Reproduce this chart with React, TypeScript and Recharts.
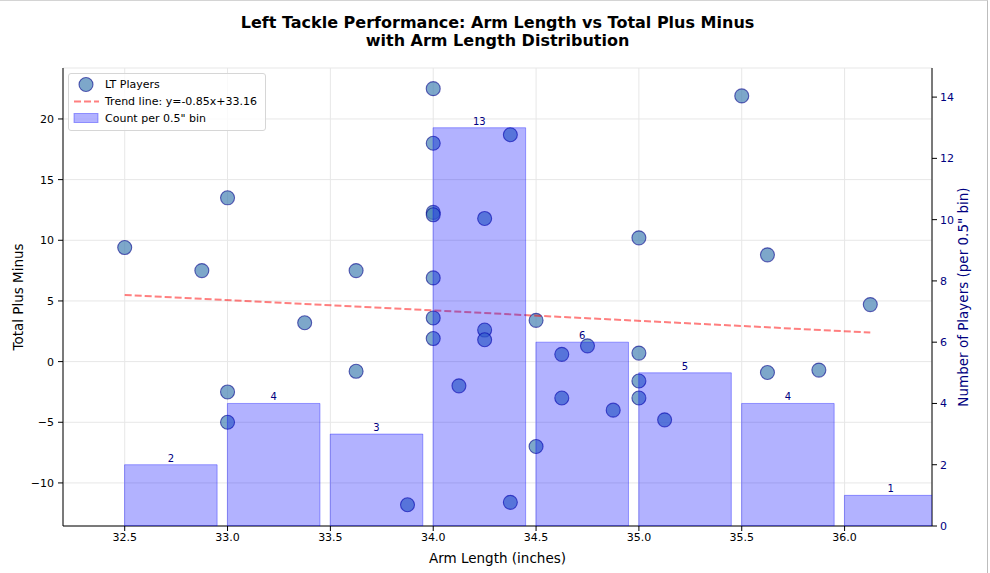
import React from "react";
import {
  ComposedChart,
  Scatter,
  Line,
  Bar,
  XAxis,
  YAxis,
  CartesianGrid,
  LabelList,
  Legend,
} from "recharts";

// arm length (inches) and total plus minus per left tackle
const armLength = [
  32.5, 32.875, 33, 33, 33, 33.375, 33.625, 33.625, 33.875, 34, 34, 34, 34, 34,
  34, 34, 34.125, 34.25, 34.25, 34.25, 34.375, 34.375, 34.5, 34.5, 34.625,
  34.625, 34.75, 34.875, 35, 35, 35, 35, 35.125, 35.5, 35.625, 35.625, 35.875,
  36.125,
];
const plusMinus = [
  9.4, 7.5, 13.5, -2.5, -5, 3.2, 7.5, -0.8, -11.8, 22.5, 18, 12.3, 12.1, 6.9,
  3.6, 1.9, -2, 11.8, 2.6, 1.8, 18.7, -11.6, 3.4, -7, 0.6, -3, 1.3, -4, 10.2,
  0.7, -1.6, -3, -4.8, 21.9, 8.8, -0.9, -0.7, 4.7,
];

// histogram bins (0.5" wide, drawn 0.45" wide)
const binStarts = [32.5, 33, 33.5, 34, 34.5, 35, 35.5, 36];
const binCounts = [2, 4, 3, 13, 6, 5, 4, 1];

// trend line end points
const trendX = [32.5, 36.125];
const trendY = [5.5, 2.4];

const xTicks = [32.5, 33, 33.5, 34, 34.5, 35, 35.5, 36];
const leftTicks = [-10, -5, 0, 5, 10, 15, 20];
const rightTicks = [0, 2, 4, 6, 8, 10, 12, 14];

const X_DOMAIN = [32.2, 36.425];
const FONT = "'DejaVu Sans', sans-serif";
const W = 990;
const H = 573;
const PLOT_LEFT = 63;
const PLOT_RIGHT = 932;
const BAR_W = 0.45;

const players = armLength.map((x, i) => ({ x, y: plusMinus[i] }));
const bins = binStarts.map((s, i) => ({ x: s + BAR_W / 2, count: binCounts[i] }));
const trend = trendX.map((x, i) => ({ x, y: trendY[i] }));

const barPx = (BAR_W * (PLOT_RIGHT - PLOT_LEFT)) / (X_DOMAIN[1] - X_DOMAIN[0]);
const minus = (v: number) => String(v).replace("-", "\u2212");

const Dot = (props: any) => (
  <circle
    cx={props.cx}
    cy={props.cy}
    r={7}
    fill="steelblue"
    fillOpacity={0.7}
    stroke="darkblue"
    strokeOpacity={0.6}
    strokeWidth={1.1}
  />
);

const renderLegend = () => (
  <div
    style={{
      border: "1px solid #d6d6d6",
      borderRadius: 3,
      background: "rgba(255,255,255,0.8)",
      padding: "2px 8px 3px 2px",
      fontFamily: FONT,
      fontSize: 11,
      lineHeight: "17px",
      color: "#000",
    }}
  >
    <div style={{ display: "flex", alignItems: "center" }}>
      <svg width={30} height={17}>
        <circle cx={15} cy={8.5} r={7} fill="steelblue" fillOpacity={0.7} stroke="darkblue" strokeOpacity={0.6} strokeWidth={1.1} />
      </svg>
      <span style={{ marginLeft: 4 }}>LT Players</span>
    </div>
    <div style={{ display: "flex", alignItems: "center" }}>
      <svg width={30} height={17}>
        <line x1={3} y1={8.5} x2={28} y2={8.5} stroke="red" strokeOpacity={0.5} strokeWidth={2} strokeDasharray="7 3" />
      </svg>
      <span style={{ marginLeft: 4 }}>Trend line: y=-0.85x+33.16</span>
    </div>
    <div style={{ display: "flex", alignItems: "center" }}>
      <svg width={30} height={17}>
        <rect x={3} y={3.5} width={24} height={9} fill="blue" fillOpacity={0.3} stroke="blue" strokeOpacity={0.35} />
      </svg>
      <span style={{ marginLeft: 4 }}>Count per 0.5" bin</span>
    </div>
  </div>
);

export default function App() {
  return (
    <div style={{ position: "absolute", left: 0, top: 0, width: W, height: H, background: "#fff", fontFamily: FONT }}>
      <div
        style={{
          position: "absolute",
          top: 14,
          left: PLOT_LEFT,
          width: PLOT_RIGHT - PLOT_LEFT,
          textAlign: "center",
          fontWeight: "bold",
          fontSize: 16,
          lineHeight: "18px",
        }}
      >
        Left Tackle Performance: Arm Length vs Total Plus Minus
        <br />
        with Arm Length Distribution
      </div>
      <ComposedChart
        width={W}
        height={H}
        data={bins}
        margin={{ top: 68, right: 0, bottom: 0, left: 0 }}
        style={{ fontFamily: FONT }}
      >
        <CartesianGrid stroke="#e7e7e7" strokeWidth={1} />
        <XAxis
          type="number"
          dataKey="x"
          domain={X_DOMAIN}
          ticks={xTicks}
          allowDataOverflow
          tickFormatter={(v: number) => v.toFixed(1)}
          height={47}
          tickSize={5}
          tickMargin={2}
          tick={{ fill: "#000", fontSize: 11 }}
          tickLine={{ stroke: "#000" }}
          axisLine={{ stroke: "#000" }}
          label={{ value: "Arm Length (inches)", position: "insideBottom", offset: 10, fill: "#000", fontSize: 13.5 }}
        />
        <XAxis
          xAxisId="top"
          orientation="top"
          type="number"
          dataKey="x"
          domain={X_DOMAIN}
          allowDataOverflow
          height={0}
          tick={false}
          tickLine={false}
          axisLine={{ stroke: "#000" }}
        />
        <XAxis
          xAxisId="bins"
          type="number"
          dataKey="x"
          domain={X_DOMAIN}
          allowDataOverflow
          hide
        />
        <YAxis
          type="number"
          domain={[-13.55, 24.2]}
          ticks={leftTicks}
          allowDataOverflow
          width={PLOT_LEFT}
          tickSize={5}
          tickMargin={4}
          tickFormatter={minus}
          tick={{ fill: "#000", fontSize: 11 }}
          tickLine={{ stroke: "#000" }}
          axisLine={{ stroke: "#000" }}
          label={{
            value: "Total Plus Minus",
            angle: -90,
            position: "insideLeft",
            offset: 18,
            fill: "#000",
            fontSize: 13.5,
            style: { textAnchor: "middle" },
          }}
        />
        <YAxis
          yAxisId="right"
          orientation="right"
          type="number"
          domain={[0, 14.95]}
          ticks={rightTicks}
          allowDataOverflow
          width={W - PLOT_RIGHT}
          tickSize={5}
          tickMargin={3}
          tick={{ fill: "navy", fontSize: 11 }}
          tickLine={{ stroke: "#000" }}
          axisLine={{ stroke: "#000" }}
          label={{
            value: 'Number of Players (per 0.5" bin)',
            angle: -90,
            position: "insideRight",
            offset: 27,
            fill: "navy",
            fontSize: 13.5,
            style: { textAnchor: "middle" },
          }}
        />
        <Legend
          layout="vertical"
          align="center"
          verticalAlign="middle"
          content={renderLegend}
          wrapperStyle={{ left: 68, top: 73, width: "auto" }}
        />
        <Scatter
          name="LT Players"
          data={players}
          dataKey="y"
          shape={<Dot />}
          zIndex={100}
          isAnimationActive={false}
        />
        <Line
          data={trend}
          dataKey="y"
          type="linear"
          stroke="red"
          strokeOpacity={0.5}
          strokeWidth={2}
          strokeDasharray="7 3"
          dot={false}
          activeDot={false}
          zIndex={150}
          isAnimationActive={false}
        />
        <Bar
          xAxisId="bins"
          yAxisId="right"
          dataKey="count"
          barSize={barPx}
          fill="blue"
          fillOpacity={0.3}
          stroke="blue"
          strokeOpacity={0.35}
          zIndex={900}
          isAnimationActive={false}
        >
          <LabelList dataKey="count" position="top" offset={3} fill="navy" fontSize={10} />
        </Bar>
      </ComposedChart>
      <div
        style={{
          position: "absolute",
          left: 0,
          top: 0,
          width: W - 3,
          height: H,
          borderTop: "1px solid #d4d4d4",
          borderRight: "1px solid #bdbdbd",
          pointerEvents: "none",
        }}
      />
    </div>
  );
}
